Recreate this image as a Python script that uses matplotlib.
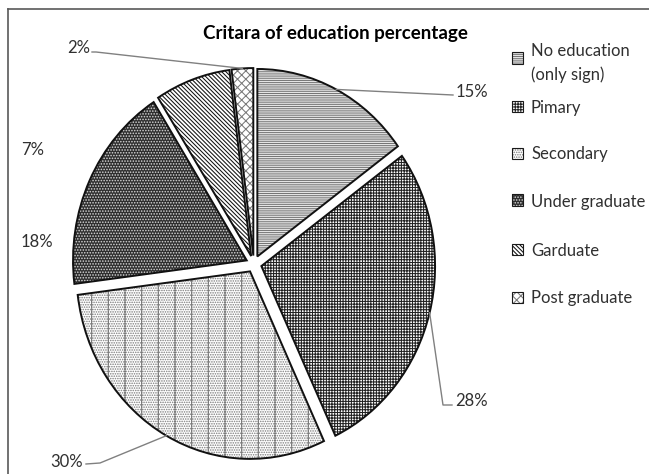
import matplotlib
matplotlib.use('Agg')
import matplotlib.pyplot as plt
from matplotlib.patches import Wedge, Rectangle
from matplotlib.lines import Line2D
import numpy as np

# ---------------- data ----------------
categories = ["No education\n(only sign)", "Pimary", "Secondary",
              "Under graduate", "Garduate", "Post graduate"]
values = [15, 28, 30, 18, 7, 2]
pct_labels = ["15%", "28%", "30%", "18%", "7%", "2%"]
title = "Critara of education percentage"

# ---------------- styles ----------------
face_colors = ['white', 'white', 'white', '#2e2e2e', 'white', 'white']
hatch_colors = ['#767676', '#222222', '#7a7a7a', '#d8d8d8', '#111111', '#7a7a7a']
hatches = ['---------', '++++++', '|.......', '......', '\\' * 8, 'xxxx']

plt.rcParams['font.family'] = ['Lato', 'DejaVu Sans']
plt.rcParams['hatch.linewidth'] = 0.75

W, H = 649, 474
fig = plt.figure(figsize=(W / 100, H / 100), dpi=100)
ax = fig.add_axes([0, 0, 1, 1])

# pie geometry (pixels; the reference pie is slightly stretched vertically)
cx, cy, Rx, Ry = 253.8, 264.0, 173.7, 187.5
explode_frac = 0.045

wedges, _ = ax.pie(values, explode=[explode_frac] * len(values), startangle=90,
                   counterclock=False, colors=face_colors,
                   wedgeprops=dict(linewidth=0))
ax.set_aspect('auto')
ax.set_xlim(-cx / Rx, (W - cx) / Rx)
ax.set_ylim((cy - H) / Ry, cy / Ry)
ax.axis('off')

for w, h, hc in zip(wedges, hatches, hatch_colors):
    w.set_hatch(h)
    w.set_edgecolor(hc)
    ax.add_patch(Wedge(w.center, w.r, w.theta1, w.theta2, fill=False,
                       edgecolor='#111111', linewidth=1.4, zorder=5))

inv = ax.transData.inverted()
def px(x, y):
    return inv.transform((x, H - y))

# percentage labels (pixel positions) and leader-line elbows
label_pos = [(456, 92, 'left'), (455, 401, 'left'), (83, 462, 'right'),
             (53, 242, 'right'), (44, 150, 'right'), (90, 48, 'right')]
leader_pts = [[(453, 95)], [(443, 405), (452, 405)], [(100, 463), (86, 464)],
              None, None, [(96, 52), (92, 52)]]

for w, lab, (lx, ly, ha), pts in zip(wedges, pct_labels, label_pos, leader_pts):
    tx, ty = px(lx, ly)
    ax.text(tx, ty, lab, ha=ha, va='center', fontsize=12, color='#303030')
    if pts:
        mid = np.deg2rad((w.theta1 + w.theta2) / 2)
        ax_, ay_ = w.center[0] + w.r * np.cos(mid), w.center[1] + w.r * np.sin(mid)
        xs = [ax_] + [px(*p)[0] for p in pts]
        ys = [ay_] + [px(*p)[1] for p in pts]
        ax.plot(xs, ys, color='#808080', lw=1.0, zorder=6)

# title
fig.text(335 / W, 1 - 33 / H, title, ha='center', va='center',
         fontsize=13.5, fontweight='bold', color='black')

# legend (manual)
leg_y = [58, 107, 153, 200, 249, 297]
for lab, y, fc, hc, h in zip(categories, leg_y, face_colors, hatch_colors, hatches):
    fig.patches.append(Rectangle((512 / W, 1 - (y + 5.5) / H), 11 / W, 11 / H,
                                 transform=fig.transFigure, facecolor=fc,
                                 edgecolor=hc, hatch=h, linewidth=0))
    fig.patches.append(Rectangle((512 / W, 1 - (y + 5.5) / H), 11 / W, 11 / H,
                                 transform=fig.transFigure, fill=False,
                                 edgecolor='#1a1a1a', linewidth=0.8))
    fig.text(531 / W, 1 - y / H, lab, ha='left', va='center_baseline',
             fontsize=12, color='#303030', linespacing=1.5,
             transform=fig.transFigure)

# chart border (top and left visible in reference crop)
fig.add_artist(Line2D([8 / W, 8 / W], [0, 1 - 9 / H], transform=fig.transFigure,
                      color='#595959', lw=1.2))
fig.add_artist(Line2D([8 / W, 1], [1 - 9 / H, 1 - 9 / H], transform=fig.transFigure,
                      color='#595959', lw=1.2))

fig.savefig('out.png', dpi=100)
